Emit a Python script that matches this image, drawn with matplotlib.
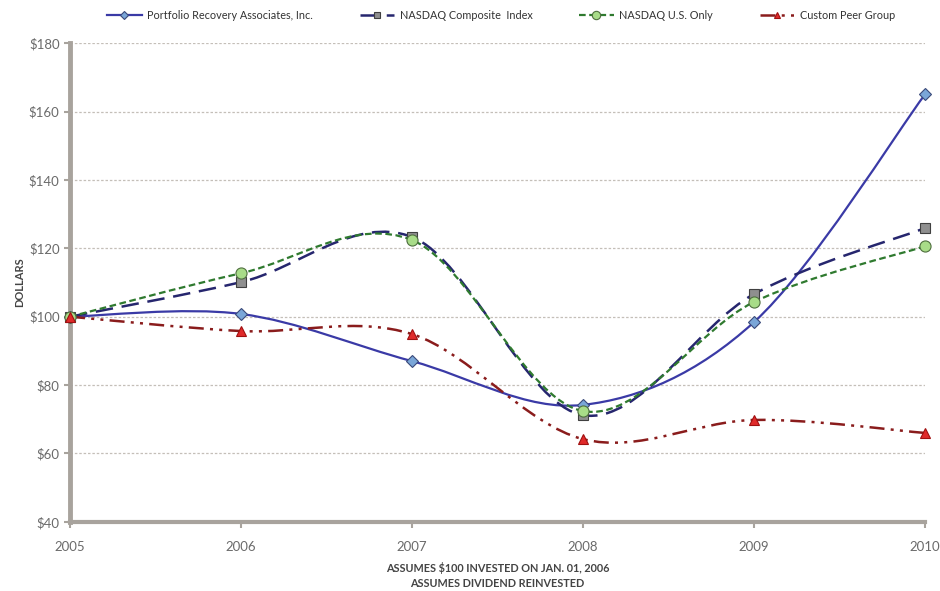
import matplotlib
matplotlib.use("Agg")
import matplotlib.pyplot as plt
from matplotlib.path import Path
from matplotlib.patches import PathPatch
from matplotlib.lines import Line2D
import numpy as np

plt.rcParams['font.family'] = ['Lato', 'DejaVu Sans']

years = [2005, 2006, 2007, 2008, 2009, 2010]
pra = [100, 100.8, 87, 74.2, 98.4, 165]
nasdaq_comp = [100, 110.1, 123.3, 71.2, 106.6, 125.9]
nasdaq_us = [100, 112.7, 122.4, 72.4, 104.3, 120.6]
peer = [100, 95.8, 94.9, 64.2, 69.8, 66]

labels = ["Portfolio Recovery Associates, Inc.", "NASDAQ Composite  Index",
          "NASDAQ U.S. Only", "Custom Peer Group"]
ytick_vals = [40, 60, 80, 100, 120, 140, 160, 180]


def smooth_path(x, y):
    # excel-like smoothed line: cubic bezier, catmull-rom tangents
    pts = np.column_stack([x, y]).astype(float)
    n = len(pts)
    verts = [pts[0]]
    codes = [Path.MOVETO]
    for i in range(n - 1):
        p0 = pts[i - 1] if i > 0 else pts[i]
        p1 = pts[i]
        p2 = pts[i + 1]
        p3 = pts[i + 2] if i + 2 < n else pts[i + 1]
        c1 = p1 + (p2 - p0) / 6.0
        c2 = p2 - (p3 - p1) / 6.0
        verts += [c1, c2, p2]
        codes += [Path.CURVE4] * 3
    return Path(verts, codes)


series = [
    (pra, dict(color="#3a3aa6", lw=1.6, ls="-"),
     dict(marker="D", ms=6, mfc="#7aa6d8", mec="#3a4a7a")),
    (nasdaq_comp, dict(color="#26266e", lw=1.8, ls=(0, (7, 3.5))),
     dict(marker="s", ms=7, mfc="#8f8f8f", mec="#404040")),
    (nasdaq_us, dict(color="#2f7a2f", lw=1.6, ls=(0, (3, 1.6))),
     dict(marker="o", ms=8, mfc="#a8dc88", mec="#4f6f3f")),
    (peer, dict(color="#8a1c1c", lw=1.8, ls=(0, (6, 2.5, 1.2, 2.5, 1.2, 2.5))),
     dict(marker="^", ms=7, mfc="#e02a2a", mec="#a01010")),
]

fig = plt.figure(figsize=(9.4, 5.91), dpi=100)
ax = fig.add_axes([0.0745, 0.117, 0.9095, 0.81])

handles = []
for vals, lstyle, mstyle in series:
    patch = PathPatch(smooth_path(years, vals), fill=False, edgecolor=lstyle["color"],
                      lw=lstyle["lw"], ls=lstyle["ls"], zorder=3, capstyle="butt")
    ax.add_patch(patch)
    ax.plot(years, vals, ls="none", zorder=4, mew=0.8, clip_on=False, **mstyle)
    handles.append(Line2D([], [], color=lstyle["color"], lw=lstyle["lw"], ls=lstyle["ls"],
                          mew=0.8, **{**mstyle, "ms": mstyle["ms"] - 2}))

ax.set_xlim(2005, 2010)
ax.set_ylim(40, 180)
ax.set_xticks(years)
ax.set_xticklabels([str(y) for y in years])
ax.set_yticks(ytick_vals)
ax.set_yticklabels(["\\$%d" % v for v in ytick_vals])
ax.yaxis.grid(True, color="#c4bfb8", ls=(0, (2, 1.5)), lw=0.9)
ax.set_axisbelow(True)

for s in ["top", "right"]:
    ax.spines[s].set_visible(False)
ax.spines["left"].set_color("#a8a39d")
ax.spines["left"].set_linewidth(3.5)
ax.spines["bottom"].set_color("#a8a39d")
ax.spines["bottom"].set_linewidth(3)
ax.tick_params(colors="#a8a39d", labelcolor="#6a6a6a", labelsize=9.5, length=4, width=1.5)
ax.tick_params(axis="x", pad=10)

ax.set_ylabel("DOLLARS", fontsize=8, fontweight="bold", color="#444444", labelpad=3)
ax.set_xlabel("ASSUMES \\$100 INVESTED ON JAN. 01, 2006\nASSUMES DIVIDEND REINVESTED",
              fontsize=7.8, fontweight="bold", color="#444444", labelpad=6, linespacing=1.5)

fig.legend(handles, labels, loc="upper center", bbox_to_anchor=(0.533, 1.0), ncol=4,
           frameon=False, fontsize=7.8, handlelength=3.2, columnspacing=4.3,
           handletextpad=0.5, labelcolor="#333333")

fig.savefig("out.png", dpi=100)
